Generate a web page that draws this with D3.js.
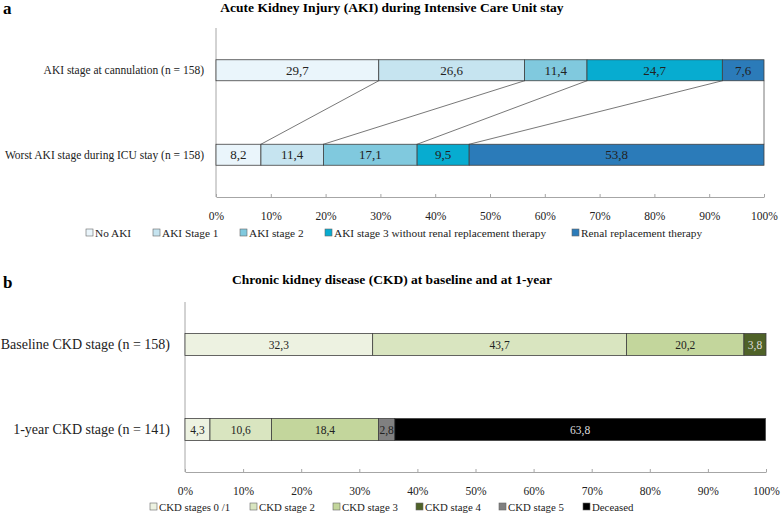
<!DOCTYPE html>
<html>
<head>
<meta charset="utf-8">
<script src="https://cdn.jsdelivr.net/npm/d3@7"></script>
<style>
  body { margin: 0; background: #fff; }
  svg { font-family: "Liberation Serif", "Times New Roman", serif; }
</style>
</head>
<body>
<div id="graphic"></div>
<script>
// panel a data
var akiRows = ["AKI stage at cannulation (n = 158)", "Worst AKI stage during ICU stay (n = 158)"];
var akiSeries = ["No AKI", "AKI Stage 1", "AKI stage 2", "AKI stage 3 without renal replacement therapy", "Renal replacement therapy"];
var akiCannulation = [29.7, 26.6, 11.4, 24.7, 7.6];
var akiWorst = [8.2, 11.4, 17.1, 9.5, 53.8];
var akiColors = ["#eaf5fb", "#c6e4f0", "#80c9de", "#07acd0", "#2b7bb9"];

// panel b data
var ckdRows = ["Baseline CKD stage (n = 158)", "1-year CKD stage (n = 141)"];
var ckdSeries = ["CKD stages 0 /1", "CKD stage 2", "CKD stage 3", "CKD stage 4", "CKD stage 5", "Deceased"];
var ckdBaseline = [32.3, 43.7, 20.2, 3.8, 0, 0];
var ckdOneYear = [4.3, 10.6, 18.4, 0, 2.8, 63.8];
var ckdColors = ["#edf2e1", "#d9e5c0", "#c3d69c", "#4f6228", "#808080", "#000000"];

var tickValues = [0, 10, 20, 30, 40, 50, 60, 70, 80, 90, 100];

var svg = d3.select("#graphic").append("svg")
    .attr("width", 781)
    .attr("height", 515);

function fmt(v) {
    return v.toFixed(1).replace(".", ",");
}

function isDark(c) {
    return d3.hsl(c).l < 0.35;
}

function stack(values) {
    var out = [], acc = 0;
    values.forEach(function (v, i) {
        out.push({ i: i, v: v, x0: acc, x1: acc + v });
        acc += v;
    });
    return out;
}

function panel(o) {
    var g = svg.append("g");
    var x = d3.scaleLinear().domain([0, 100]).range([o.left, o.right]);
    var y = d3.scalePoint().domain(o.rows).range([o.top, o.bottom]).padding(0.5);

    // letter + title
    g.append("text").attr("x", 3).attr("y", o.letterY)
        .attr("font-size", 17).attr("font-weight", "bold").text(o.letter);
    g.append("text").attr("x", o.titleX).attr("y", o.titleY)
        .attr("text-anchor", "middle")
        .attr("font-size", 13.5).attr("font-weight", "bold").text(o.title);

    // axis
    var axis = g.append("g")
        .attr("transform", "translate(0," + o.bottom + ")")
        .call(d3.axisBottom(x).tickValues(tickValues).tickSizeInner(-3).tickSizeOuter(0)
            .tickFormat(function (d) { return d + "%"; }));
    axis.select(".domain").attr("stroke", "#a6a6a6");
    axis.selectAll(".tick line").attr("stroke", "#a6a6a6");
    axis.selectAll(".tick text")
        .attr("y", 15)
        .attr("font-family", "Liberation Serif")
        .attr("font-size", 11.5).attr("fill", "#222");
    g.append("line")
        .attr("x1", x(0)).attr("x2", x(0))
        .attr("y1", o.top).attr("y2", o.bottom)
        .attr("stroke", "#a6a6a6");

    // series lines (panel a only)
    if (o.connect) {
        var s0 = stack(o.data[0]), s1 = stack(o.data[1]);
        var links = s0.map(function (d, i) { return { a: d.x1, b: s1[i].x1 }; });
        g.selectAll(".link").data(links).enter().append("line")
            .attr("x1", function (d) { return x(d.a); })
            .attr("x2", function (d) { return x(d.b); })
            .attr("y1", y(o.rows[0]) + o.barH / 2)
            .attr("y2", y(o.rows[1]) - o.barH / 2)
            .attr("stroke", "#555").attr("stroke-width", 0.8);
    }

    o.rows.forEach(function (row, r) {
        var segs = stack(o.data[r]).filter(function (d) { return d.v > 0; });
        var cy = y(row);
        g.selectAll(".seg" + r).data(segs).enter().append("rect")
            .attr("x", function (d) { return x(d.x0); })
            .attr("width", function (d) { return x(d.x1) - x(d.x0); })
            .attr("y", cy - o.barH / 2)
            .attr("height", o.barH)
            .attr("fill", function (d) { return o.colors[d.i]; })
            .attr("stroke", "#404040").attr("stroke-width", 0.8);
        g.selectAll(".lab" + r).data(segs).enter().append("text")
            .attr("x", function (d) { return (x(d.x0) + x(d.x1)) / 2; })
            .attr("y", cy + o.valSize * 0.35)
            .attr("text-anchor", "middle")
            .attr("font-size", o.valSize)
            .attr("fill", function (d) { return isDark(o.colors[d.i]) ? "#ddd" : "#222"; })
            .text(function (d) { return fmt(d.v); });
        g.append("text")
            .attr("x", o.labelRight).attr("y", cy + o.rowSize * 0.35)
            .attr("text-anchor", "end")
            .attr("font-size", o.rowSize).attr("fill", "#222")
            .text(row);
    });

    // legend
    o.series.forEach(function (s, i) {
        var item = g.append("g").attr("transform", "translate(" + o.legendX[i] + "," + o.legendY + ")");
        item.append("rect").attr("x", 0).attr("y", -4).attr("width", 7).attr("height", 7)
            .attr("fill", o.colors[i]).attr("stroke", "#666").attr("stroke-width", 0.6);
        item.append("text").attr("x", 9).attr("y", 4)
            .attr("font-size", o.legendSize).attr("fill", "#222").text(s);
    });
}

panel({
    letter: "a", letterY: 14,
    title: "Acute Kidney Injury (AKI) during Intensive Care Unit stay", titleX: 392, titleY: 12,
    rows: akiRows, series: akiSeries, data: [akiCannulation, akiWorst], colors: akiColors,
    left: 216, right: 764, top: 28, bottom: 197, barH: 21,
    valSize: 13, rowSize: 11.5, labelRight: 204, connect: true,
    legendX: [86, 153, 240, 325, 572], legendY: 233, legendSize: 11.3
});

panel({
    letter: "b", letterY: 288,
    title: "Chronic kidney disease (CKD) at baseline and at 1-year", titleX: 392, titleY: 284,
    rows: ckdRows, series: ckdSeries, data: [ckdBaseline, ckdOneYear], colors: ckdColors,
    left: 185, right: 766, top: 302, bottom: 472, barH: 22,
    valSize: 11.5, rowSize: 14, labelRight: 170, connect: false,
    legendX: [150, 250, 333, 416, 499, 583], legendY: 507, legendSize: 10.8
});
</script>
</body>
</html>
